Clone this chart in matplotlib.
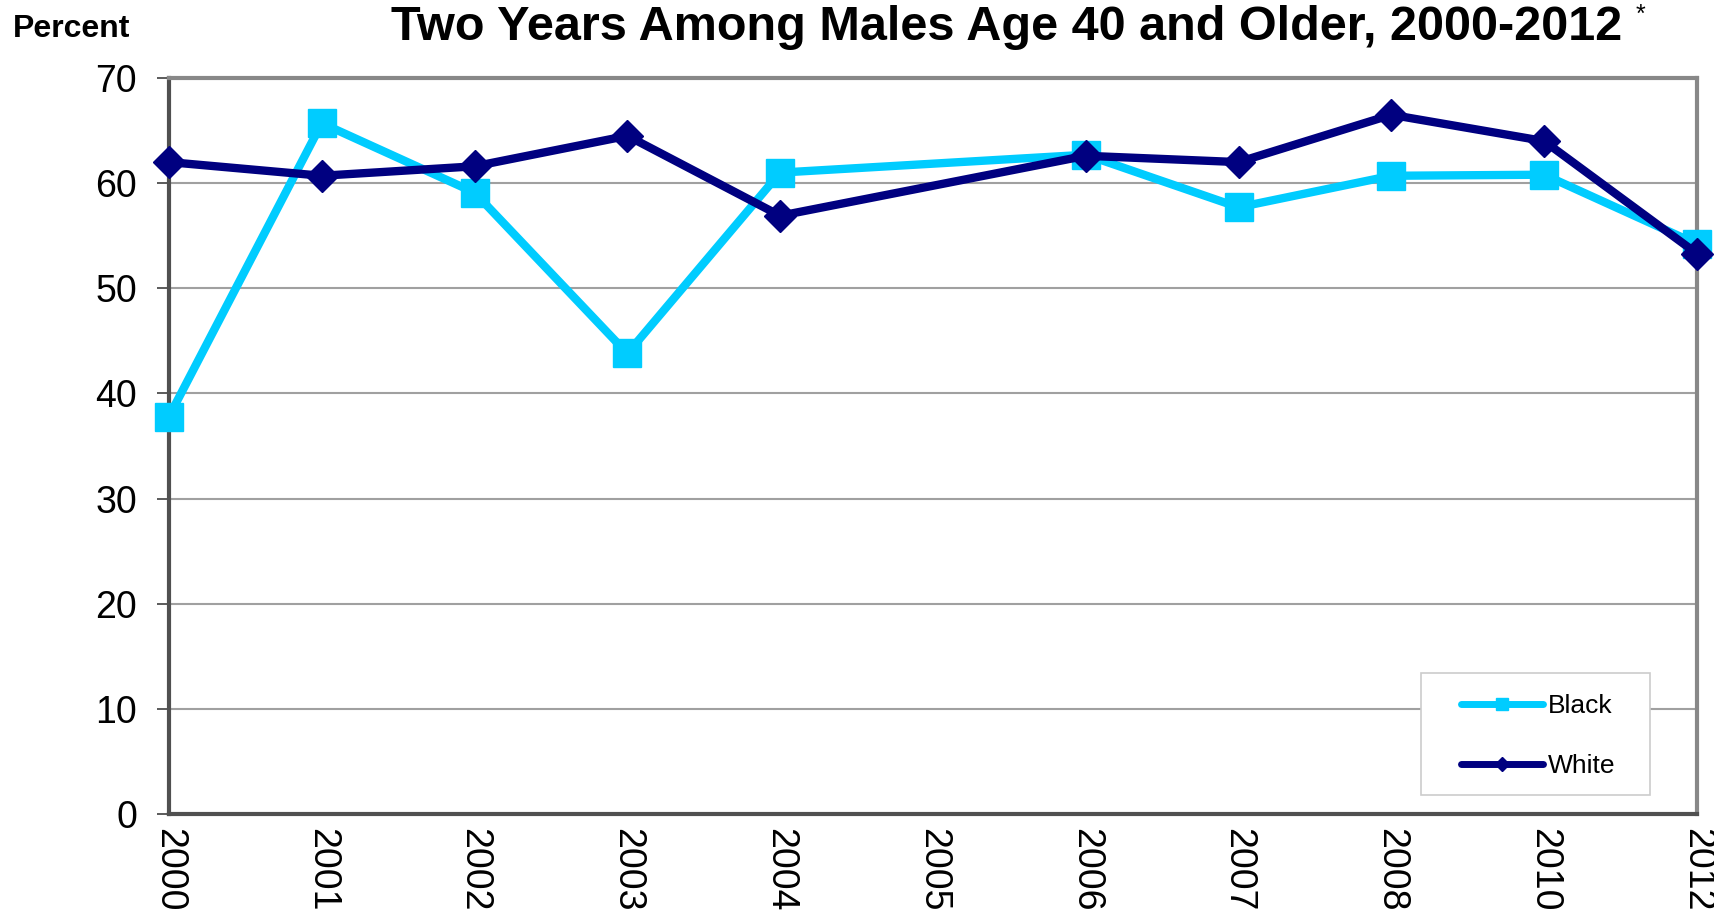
import numpy as np
import matplotlib
matplotlib.use("Agg")
import matplotlib.pyplot as plt
from matplotlib.lines import Line2D
from matplotlib.patches import Rectangle

plt.rcParams['font.family'] = ['Liberation Sans', 'DejaVu Sans']

years = ['2000', '2001', '2002', '2003', '2004', '2005', '2006', '2007', '2008', '2010', '2012']
black = [37.8, 65.7, 59.1, 43.8, 61.0, np.nan, 62.7, 57.7, 60.7, 60.8, 54.2]
white = [62.0, 60.7, 61.6, 64.5, 56.9, np.nan, 62.6, 62.0, 66.5, 64.0, 53.3]

c_black = '#00CCFF'
c_white = '#000080'

W, H = 1714, 911
fig = plt.figure(figsize=(W / 100, H / 100), dpi=100)
ax = fig.add_axes([0.0986, 0.1065, 0.8914, 0.8079])

x = np.arange(len(years))
b = np.array(black, dtype=float)
w = np.array(white, dtype=float)
mb = ~np.isnan(b)
mw = ~np.isnan(w)

ax.plot(x[mb], b[mb], color=c_black, lw=6, marker='s', ms=20, zorder=3,
        clip_on=False)
ax.plot(x[mw], w[mw], color=c_white, lw=6, marker='D', ms=16, zorder=4,
        clip_on=False)

ax.set_xlim(0, len(years) - 1)
ax.set_ylim(0, 70)
ax.set_yticks(range(0, 71, 10))
ax.set_xticks(x)
ax.set_xticklabels(years, rotation=270, fontsize=27)
ax.tick_params(axis='x', length=0, pad=10)
ax.tick_params(axis='y', labelsize=27, length=9, width=1.2, color='#404040', pad=14)
ax.yaxis.grid(True, color='#A0A0A0', lw=1.5)
ax.set_axisbelow(True)

for s in ['top', 'right']:
    ax.spines[s].set_color('#888888')
    ax.spines[s].set_linewidth(3)
for s in ['left', 'bottom']:
    ax.spines[s].set_color('#505050')
    ax.spines[s].set_linewidth(3)

# legend frame
fig.patches.append(Rectangle((1421 / W, 1 - 795 / H), (1650 - 1421) / W, (795 - 673) / H,
                             transform=fig.transFigure, facecolor='white',
                             edgecolor='#CCCCCC', lw=1.2, zorder=5))
handles = [Line2D([], [], color=c_black, lw=5, marker='s', ms=9, solid_capstyle='round'),
           Line2D([], [], color=c_white, lw=5, marker='D', ms=7, solid_capstyle='round')]
leg = fig.legend(handles, ['Black', 'White'], loc='upper left',
                 bbox_to_anchor=(1461 / W, 1 - 694 / H), bbox_transform=fig.transFigure,
                 fontsize=19, frameon=False,
                 handlelength=3.1, handletextpad=0.2, labelspacing=1.37,
                 borderpad=0, borderaxespad=0)
leg.set_zorder(6)

fig.text(0.5875, 1 - 40 / H, 'Two Years Among Males Age 40 and Older, 2000-2012',
         ha='center', va='baseline', fontsize=35, fontweight='bold')
fig.text(1640 / W, 1 - 22 / H, '*', ha='center', va='baseline', fontsize=18)
fig.text(13 / W, 1 - 37 / H, 'Percent', ha='left', va='baseline',
         fontsize=23, fontweight='bold')

fig.savefig('out.png', dpi=100)
